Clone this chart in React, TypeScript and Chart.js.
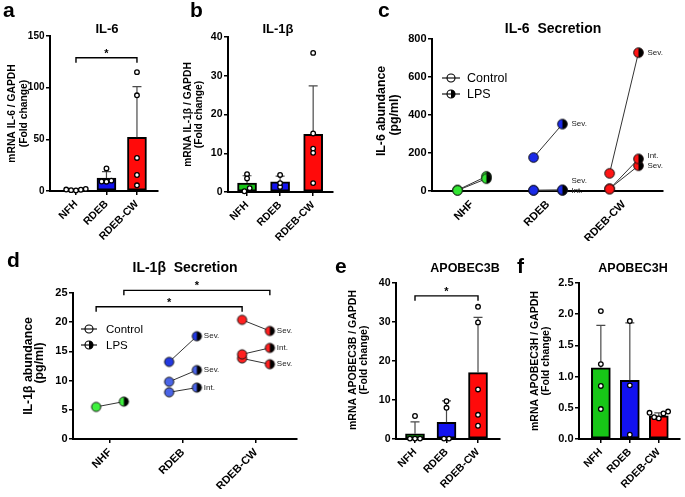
import React, { useEffect, useRef } from "react";
import { Chart, registerables } from "chart.js";

Chart.register(...registerables);

const W = 685;
const H = 497;
const FONT = "'Liberation Sans', Arial, Helvetica, sans-serif";
const Y_W = 40; // fixed width reserved for y tick labels
const X_H = 50; // fixed height reserved for x tick labels
const PAIR_OFF = 0.19; // control / LPS offset around category centre
const SWARM_STEP = 0.16;

// ---------------- DATA ----------------
const mrnaCategories = ["NFH", "RDEB", "RDEB-CW"];
const secretionCategories = ["NHF", "RDEB", "RDEB-CW"];

// a: IL-6 mRNA (fold change)
const il6MrnaMean = [1.1, 12.5, 52];
const il6MrnaSD = [0.6, 6.3, 49];
const il6MrnaNFH = [0.6, 1.2, 2.0, 1.4, 0.8];
const il6MrnaRDEB = [21.8, 9.0, 10.0, 9.2];
const il6MrnaRDEBCW = [115, 92.6, 32, 15.5, 5.5];

// b: IL-1β mRNA (fold change)
const il1bMrnaMean = [2.3, 2.6, 14.9];
const il1bMrnaSD = [1.9, 1.5, 12.5];
const il1bMrnaNFH = [4.6, 3.5, 1.0, 0.2];
const il1bMrnaRDEB = [4.4, 1.3, 2.3];
const il1bMrnaRDEBCW = [35.9, 15.1, 11.2, 10.1, 2.3];

// c: IL-6 secretion (pg/ml), one entry per donor
const il6SecGroup = [0, 0, 1, 1, 1, 2, 2, 2];
const il6SecControl = [3, 5, 176, 4, 3, 93, 10, 12];
const il6SecLPS = [65, 77, 352, 6, 3, 728, 169, 133];
const il6SecSeverity = ["", "", "Sev.", "Sev.", "Int.", "Sev.", "Int.", "Sev."];

// d: IL-1β secretion (pg/ml), one entry per donor
const il1bSecGroup = [0, 1, 1, 1, 2, 2, 2];
const il1bSecControl = [5.5, 13.2, 9.8, 8.0, 20.4, 14.5, 13.8];
const il1bSecLPS = [6.4, 17.6, 11.8, 8.8, 18.5, 15.6, 12.8];
const il1bSecSeverity = ["", "Sev.", "Sev.", "Int.", "Sev.", "Int.", "Sev."];

// e: APOBEC3B mRNA (fold change)
const a3bMean = [1.35, 4.3, 17.0];
const a3bSD = [3.05, 5.5, 14.2];
const a3bNFH = [5.9, 0.1, 0.1, 0.1];
const a3bRDEB = [9.7, 8.0, 0.1, 0.1];
const a3bRDEBCW = [33.9, 29.9, 12.7, 6.2, 3.4];

// f: APOBEC3H mRNA (fold change)
const a3hMean = [1.14, 0.94, 0.37];
const a3hSD = [0.68, 0.92, 0.05];
const a3hNFH = [2.05, 1.2, 0.85, 0.48];
const a3hRDEB = [1.89, 0.86, 0.07];
const a3hRDEBCW = [0.44, 0.42, 0.41, 0.35, 0.33];

// ---------------- STYLE ----------------
const GREEN = "#17c617";
const BLUE = "#1212f0";
const RED = "#ff0a0a";
const barColors = [GREEN, BLUE, RED];
const il6SecColors = ["#33e633", "#33e633", "#1a2ae8", "#1a2ae8", "#1a2ae8", "#ff1414", "#ff1414", "#ff1414"];
const il1bSecColors = ["#3ef03e", "#2238e0", "#4a64e6", "#4a64e6", "#ff2020", "#ff2020", "#ff2020"];

type TextItem = {
  text: string;
  x: number;
  y: number;
  size: number;
  bold?: boolean;
  rotate?: boolean;
  align?: CanvasTextAlign;
  base?: CanvasTextBaseline;
};

type Bracket = { x1: number; x2: number; y: number; label: string };

// ---------------- HELPERS ----------------
// simple column-scatter layout: points closer than thr share a row and are spread centre-out
function swarm(values: number[], thr: number, step: number): number[] {
  const idx = values.map((_, i) => i).sort((a, b) => values[a] - values[b]);
  const offs = new Array(values.length).fill(0);
  let cluster: number[] = [];
  const flush = () => {
    const n = cluster.length;
    const slots: number[] = [];
    for (let k = 0; k < n; k++) slots.push(k - (n - 1) / 2);
    slots.sort((a, b) => Math.abs(a) - Math.abs(b) || a - b);
    cluster.forEach((id, k) => {
      offs[id] = slots[k] * step;
    });
    cluster = [];
  };
  idx.forEach((id) => {
    if (cluster.length && values[id] - values[cluster[cluster.length - 1]] > thr) flush();
    cluster.push(id);
  });
  flush();
  return offs;
}

function markerCanvas(color: string, r: number, half: boolean): HTMLCanvasElement {
  const c = document.createElement("canvas");
  const s = Math.ceil(2 * r + 3);
  c.width = s;
  c.height = s;
  const g = c.getContext("2d")!;
  const cx = s / 2;
  const cy = s / 2;
  g.beginPath();
  g.arc(cx, cy, r, 0, Math.PI * 2);
  g.fillStyle = color;
  g.fill();
  if (half) {
    g.beginPath();
    g.moveTo(cx, cy - r);
    g.arc(cx, cy, r, -Math.PI / 2, Math.PI / 2);
    g.closePath();
    g.fillStyle = "#000";
    g.fill();
  }
  g.beginPath();
  g.arc(cx, cy, r, 0, Math.PI * 2);
  g.lineWidth = 1;
  g.strokeStyle = "#111";
  g.stroke();
  return c;
}

const textPlugin = {
  id: "texts",
  afterDraw(chart: any, _a: any, opts: any) {
    const items: TextItem[] = opts.items || [];
    const ctx = chart.ctx;
    items.forEach((it) => {
      ctx.save();
      ctx.fillStyle = "#000";
      ctx.font = `${it.bold === false ? "" : "bold "}${it.size}px ${FONT}`;
      ctx.textAlign = it.align || "center";
      ctx.textBaseline = it.base || "middle";
      ctx.translate(it.x, it.y);
      if (it.rotate) ctx.rotate(-Math.PI / 2);
      ctx.fillText(it.text, 0, 0);
      ctx.restore();
    });
  },
};

const errorBarPlugin = {
  id: "errbars",
  afterDatasetDraw(chart: any, args: any, opts: any) {
    if (args.index !== 1 || !opts.means) return;
    const ctx = chart.ctx;
    const ys = chart.scales.y;
    const meta = chart.getDatasetMeta(1);
    ctx.save();
    ctx.strokeStyle = "#4a4a4a";
    ctx.lineWidth = 1.2;
    meta.data.forEach((el: any, i: number) => {
      const top = ys.getPixelForValue(opts.means[i] + opts.sds[i]);
      ctx.beginPath();
      ctx.moveTo(el.x, el.y);
      ctx.lineTo(el.x, top);
      ctx.moveTo(el.x - 4.5, top);
      ctx.lineTo(el.x + 4.5, top);
      ctx.stroke();
    });
    ctx.restore();
  },
};

const bracketPlugin = {
  id: "brackets",
  afterDraw(chart: any, _a: any, opts: any) {
    const items: Bracket[] = opts.items || [];
    const ctx = chart.ctx;
    const xs = chart.scales.x;
    const ys = chart.scales.y;
    items.forEach((b) => {
      const x1 = xs.getPixelForValue(b.x1);
      const x2 = xs.getPixelForValue(b.x2);
      const y = ys.getPixelForValue(b.y);
      ctx.save();
      ctx.strokeStyle = "#000";
      ctx.lineWidth = 1.4;
      ctx.beginPath();
      ctx.moveTo(x1, y + 5);
      ctx.lineTo(x1, y);
      ctx.lineTo(x2, y);
      ctx.lineTo(x2, y + 5);
      ctx.stroke();
      ctx.fillStyle = "#000";
      ctx.font = `bold 11px ${FONT}`;
      ctx.textAlign = "center";
      ctx.textBaseline = "middle";
      ctx.fillText(b.label, (x1 + x2) / 2, y - 4);
      ctx.restore();
    });
  },
};

const annotationPlugin = {
  id: "annots",
  afterDraw(chart: any, _a: any, opts: any) {
    const labels: string[] = opts.labels || [];
    const dx: number = opts.dx || 8;
    const items: { x: number; y: number; text: string }[] = [];
    labels.forEach((t, k) => {
      if (!t) return;
      const pt = chart.getDatasetMeta(k).data[1];
      items.push({ x: pt.x + dx, y: pt.y, text: t });
    });
    items.sort((a, b) => b.y - a.y);
    const lastY: Record<string, number> = {};
    items.forEach((it) => {
      const key = String(Math.round(it.x));
      if (key in lastY && it.y > lastY[key] - 10) it.y = lastY[key] - 10;
      lastY[key] = it.y;
    });
    const ctx = chart.ctx;
    ctx.save();
    ctx.fillStyle = "#222";
    ctx.font = `8px ${FONT}`;
    ctx.textAlign = "left";
    ctx.textBaseline = "middle";
    items.forEach((it) => ctx.fillText(it.text, it.x, it.y));
    ctx.restore();
  },
};

const legendPlugin = {
  id: "pairlegend",
  afterDraw(chart: any, _a: any, opts: any) {
    if (!opts.x) return;
    const ctx = chart.ctx;
    const rows: [string, boolean, number][] = [
      ["Control", false, opts.y1],
      ["LPS", true, opts.y2],
    ];
    rows.forEach(([label, half, y]) => {
      ctx.save();
      ctx.beginPath();
      ctx.arc(opts.x, y, opts.r, 0, Math.PI * 2);
      ctx.fillStyle = "#fff";
      ctx.fill();
      if (half) {
        ctx.beginPath();
        ctx.moveTo(opts.x, y - opts.r);
        ctx.arc(opts.x, y, opts.r, -Math.PI / 2, Math.PI / 2);
        ctx.closePath();
        ctx.fillStyle = "#000";
        ctx.fill();
      }
      ctx.strokeStyle = "#000";
      ctx.lineWidth = 1.1;
      ctx.beginPath();
      ctx.arc(opts.x, y, opts.r, 0, Math.PI * 2);
      ctx.stroke();
      ctx.beginPath();
      ctx.moveTo(opts.x - opts.len, y);
      ctx.lineTo(opts.x + opts.len, y);
      ctx.stroke();
      ctx.fillStyle = "#000";
      ctx.font = `${opts.size}px ${FONT}`;
      ctx.textAlign = "left";
      ctx.textBaseline = "middle";
      ctx.fillText(label, opts.textX, y + 1);
      ctx.restore();
    });
  },
};

function xAxis(cats: string[], xMin: number, xMax: number, showTicks: boolean, fontSize: number) {
  return {
    type: "linear",
    min: xMin,
    max: xMax,
    offset: false,
    afterBuildTicks: (s: any) => {
      s.ticks = cats.map((_: string, i: number) => ({ value: i }));
    },
    afterFit: (s: any) => {
      s.height = X_H;
    },
    ticks: {
      autoSkip: false,
      minRotation: 45,
      maxRotation: 45,
      padding: 3,
      color: "#000",
      font: { family: FONT, size: fontSize, weight: "bold" },
      callback: (v: any) => cats[Math.round(Number(v))] ?? "",
    },
    grid: {
      display: showTicks,
      drawOnChartArea: false,
      drawTicks: true,
      tickLength: 4,
      color: "#000",
      lineWidth: 1.5,
      offset: false,
    },
    border: { display: true, color: "#000", width: 2 },
  };
}

function yAxis(yMax: number, step: number, decimals: number, fontSize: number) {
  return {
    type: "linear",
    min: 0,
    max: yMax,
    afterFit: (s: any) => {
      s.width = Y_W;
    },
    ticks: {
      stepSize: step,
      padding: 1.5,
      color: "#000",
      font: { family: FONT, size: fontSize, weight: "bold" },
      callback: (v: any) => Number(v).toFixed(decimals),
    },
    grid: {
      display: true,
      drawOnChartArea: false,
      drawTicks: true,
      tickLength: 4,
      color: "#000",
      lineWidth: 1.5,
    },
    border: { display: true, color: "#000", width: 2 },
  };
}

type BarPanel = {
  cats: string[];
  means: number[];
  sds: number[];
  points: number[][];
  box: [number, number, number, number];
  xRange: [number, number];
  yMax: number;
  yStep: number;
  decimals: number;
  swarmThr: number;
  brackets: Bracket[];
  texts: TextItem[];
  tickSize: number;
};

function makeBarChart(canvas: HTMLCanvasElement, p: BarPanel): Chart {
  const pts: { x: number; y: number }[] = [];
  p.points.forEach((vals, i) => {
    const offs = swarm(vals, p.swarmThr, SWARM_STEP);
    vals.forEach((v, k) => pts.push({ x: i + offs[k], y: v }));
  });
  const [l, t, r, b] = p.box;
  return new Chart(canvas, {
    type: "bar",
    data: {
      datasets: [
        {
          type: "scatter",
          data: pts,
          pointRadius: 2.3,
          pointBackgroundColor: "#fff",
          pointBorderColor: "#000",
          pointBorderWidth: 1.3,
          clip: false,
        } as any,
        {
          type: "bar",
          data: p.means.map((m, i) => ({ x: i, y: m })),
          backgroundColor: barColors,
          borderColor: "#000",
          borderWidth: 2,
          borderSkipped: false,
          barThickness: 19,
        } as any,
      ],
    },
    options: {
      animation: false,
      responsive: false,
      events: [],
      layout: { padding: { left: l - Y_W, top: t, right: W - r, bottom: H - b - X_H } },
      plugins: {
        legend: { display: false },
        tooltip: { enabled: false },
        texts: { items: p.texts },
        errbars: { means: p.means, sds: p.sds },
        brackets: { items: p.brackets },
      } as any,
      scales: {
        x: xAxis(p.cats, p.xRange[0], p.xRange[1], true, 10.5),
        y: yAxis(p.yMax, p.yStep, p.decimals, p.tickSize),
      } as any,
    },
    plugins: [errorBarPlugin, bracketPlugin, textPlugin],
  });
}

type PairPanel = {
  cats: string[];
  groups: number[];
  control: number[];
  lps: number[];
  severity: string[];
  colors: string[];
  radius: number;
  box: [number, number, number, number];
  xRange: [number, number];
  yMax: number;
  yStep: number;
  showXTicks: boolean;
  brackets: Bracket[];
  texts: TextItem[];
  legend: any;
  annotDx: number;
};

function makePairChart(canvas: HTMLCanvasElement, p: PairPanel): Chart {
  const [l, t, r, b] = p.box;
  const datasets = p.control.map((c, k) => {
    const ctrlImg = markerCanvas(p.colors[k], p.radius, false);
    const lpsImg = markerCanvas(p.colors[k], p.radius, true);
    return {
      type: "scatter",
      showLine: true,
      borderColor: "#333",
      borderWidth: 1,
      clip: false,
      data: [
        { x: p.groups[k] - PAIR_OFF, y: c },
        { x: p.groups[k] + PAIR_OFF, y: p.lps[k] },
      ],
      pointRadius: p.radius,
      pointStyle: (ctx: any) => (ctx.dataIndex === 0 ? ctrlImg : lpsImg),
    } as any;
  });
  return new Chart(canvas, {
    type: "scatter",
    data: { datasets },
    options: {
      animation: false,
      responsive: false,
      events: [],
      layout: { padding: { left: l - Y_W, top: t, right: W - r, bottom: H - b - X_H } },
      plugins: {
        legend: { display: false },
        tooltip: { enabled: false },
        texts: { items: p.texts },
        brackets: { items: p.brackets },
        annots: { labels: p.severity, dx: p.annotDx },
        pairlegend: p.legend,
      } as any,
      scales: {
        x: xAxis(p.cats, p.xRange[0], p.xRange[1], p.showXTicks, 11),
        y: yAxis(p.yMax, p.yStep, 0, 11),
      } as any,
    },
    plugins: [bracketPlugin, annotationPlugin, legendPlugin, textPlugin],
  });
}

// ---------------- PANELS ----------------
const panelA: BarPanel = {
  cats: mrnaCategories,
  means: il6MrnaMean,
  sds: il6MrnaSD,
  points: [il6MrnaNFH, il6MrnaRDEB, il6MrnaRDEBCW],
  box: [50, 36, 158, 191],
  xRange: [-0.852, 2.69],
  yMax: 150,
  yStep: 50,
  decimals: 0,
  swarmThr: 3.75,
  brackets: [{ x1: 0, x2: 2, y: 129, label: "*" }],
  tickSize: 10,
  texts: [
    { text: "a", x: 3, y: 17, size: 21, align: "left", base: "alphabetic" },
    { text: "IL-6", x: 107, y: 33, size: 13, base: "alphabetic" },
    { text: "mRNA IL-6 / GAPDH", x: 12.5, y: 113.5, size: 10.3, rotate: true },
    { text: "(Fold change)", x: 24.5, y: 113.5, size: 10.3, rotate: true },
  ],
};

const panelB: BarPanel = {
  cats: mrnaCategories,
  means: il1bMrnaMean,
  sds: il1bMrnaSD,
  points: [il1bMrnaNFH, il1bMrnaRDEB, il1bMrnaRDEBCW],
  box: [228, 37, 333, 192],
  xRange: [-0.576, 2.6],
  yMax: 40,
  yStep: 10,
  decimals: 0,
  swarmThr: 0.9,
  brackets: [],
  tickSize: 10.5,
  texts: [
    { text: "b", x: 190, y: 17, size: 21, align: "left", base: "alphabetic" },
    { text: "IL-1β", x: 278, y: 33, size: 13, base: "alphabetic" },
    { text: "mRNA IL-1β / GAPDH", x: 188, y: 114.5, size: 10.3, rotate: true },
    { text: "(Fold change)", x: 199, y: 114.5, size: 10.3, rotate: true },
  ],
};

const panelC: PairPanel = {
  cats: secretionCategories,
  groups: il6SecGroup,
  control: il6SecControl,
  lps: il6SecLPS,
  severity: il6SecSeverity,
  colors: il6SecColors,
  radius: 4.8,
  box: [432, 39, 663, 191],
  xRange: [-0.526, 2.513],
  yMax: 800,
  yStep: 200,
  showXTicks: false,
  brackets: [],
  annotDx: 9,
  legend: { x: 451, y1: 78, y2: 94, len: 9, r: 4, textX: 467, size: 12.5 },
  texts: [
    { text: "c", x: 378, y: 17, size: 21, align: "left", base: "alphabetic" },
    { text: "IL-6  Secretion", x: 553, y: 33, size: 14, base: "alphabetic" },
    { text: "IL-6 abundance", x: 382, y: 111, size: 12.3, rotate: true },
    { text: "(pg/ml)", x: 395, y: 115, size: 12.3, rotate: true },
  ],
};

const panelD: PairPanel = {
  cats: secretionCategories,
  groups: il1bSecGroup,
  control: il1bSecControl,
  lps: il1bSecLPS,
  severity: il1bSecSeverity,
  colors: il1bSecColors,
  radius: 4.6,
  box: [73, 293, 297, 439],
  xRange: [-0.507, 2.562],
  yMax: 25,
  yStep: 5,
  showXTicks: true,
  brackets: [
    { x1: PAIR_OFF, x2: 2 + PAIR_OFF, y: 25.45, label: "*" },
    { x1: -PAIR_OFF, x2: 2 - PAIR_OFF, y: 22.65, label: "*" },
  ],
  annotDx: 7,
  legend: { x: 89, y1: 329, y2: 345, len: 8, r: 4, textX: 106, size: 11.5 },
  texts: [
    { text: "d", x: 7, y: 267, size: 21, align: "left", base: "alphabetic" },
    { text: "IL-1β  Secretion", x: 185, y: 272, size: 14, base: "alphabetic" },
    { text: "IL-1β abundance", x: 29, y: 366, size: 12.3, rotate: true },
    { text: "(pg/ml)", x: 40, y: 363, size: 12.3, rotate: true },
  ],
};

const panelE: BarPanel = {
  cats: mrnaCategories,
  means: a3bMean,
  sds: a3bSD,
  points: [a3bNFH, a3bRDEB, a3bRDEBCW],
  box: [396, 283, 500, 439],
  xRange: [-0.603, 2.698],
  yMax: 40,
  yStep: 10,
  decimals: 0,
  swarmThr: 1.0,
  brackets: [{ x1: 0, x2: 2, y: 36.7, label: "*" }],
  tickSize: 10.5,
  texts: [
    { text: "e", x: 335, y: 273, size: 21, align: "left", base: "alphabetic" },
    { text: "APOBEC3B", x: 465, y: 272, size: 12.5, base: "alphabetic" },
    { text: "mRNA APOBEC3B / GAPDH", x: 353, y: 360, size: 10.5, rotate: true },
    { text: "(Fold change)", x: 364, y: 360, size: 10.5, rotate: true },
  ],
};

const panelF: BarPanel = {
  cats: mrnaCategories,
  means: a3hMean,
  sds: a3hSD,
  points: [a3hNFH, a3hRDEB, a3hRDEBCW],
  box: [579, 283, 685, 439],
  xRange: [-0.754, 2.721],
  yMax: 2.5,
  yStep: 0.5,
  decimals: 1,
  swarmThr: 0.0625,
  brackets: [],
  tickSize: 11,
  texts: [
    { text: "f", x: 517, y: 273, size: 21, align: "left", base: "alphabetic" },
    { text: "APOBEC3H", x: 633, y: 272, size: 12.5, base: "alphabetic" },
    { text: "mRNA APOBEC3H / GAPDH", x: 535, y: 361, size: 10.5, rotate: true },
    { text: "(Fold change)", x: 546, y: 361, size: 10.5, rotate: true },
  ],
};

function PanelCanvas({ make }: { make: (c: HTMLCanvasElement) => Chart }) {
  const ref = useRef<HTMLCanvasElement>(null);
  useEffect(() => {
    const chart = make(ref.current!);
    return () => chart.destroy();
  }, []);
  return (
    <canvas
      ref={ref}
      width={W}
      height={H}
      style={{ position: "absolute", left: 0, top: 0, width: W, height: H }}
    />
  );
}

export default function App() {
  return (
    <div
      style={{
        position: "fixed",
        left: 0,
        top: 0,
        width: W,
        height: H,
        background: "#fff",
        overflow: "hidden",
      }}
    >
      <PanelCanvas make={(c) => makeBarChart(c, panelA)} />
      <PanelCanvas make={(c) => makeBarChart(c, panelB)} />
      <PanelCanvas make={(c) => makePairChart(c, panelC)} />
      <PanelCanvas make={(c) => makePairChart(c, panelD)} />
      <PanelCanvas make={(c) => makeBarChart(c, panelE)} />
      <PanelCanvas make={(c) => makeBarChart(c, panelF)} />
    </div>
  );
}
